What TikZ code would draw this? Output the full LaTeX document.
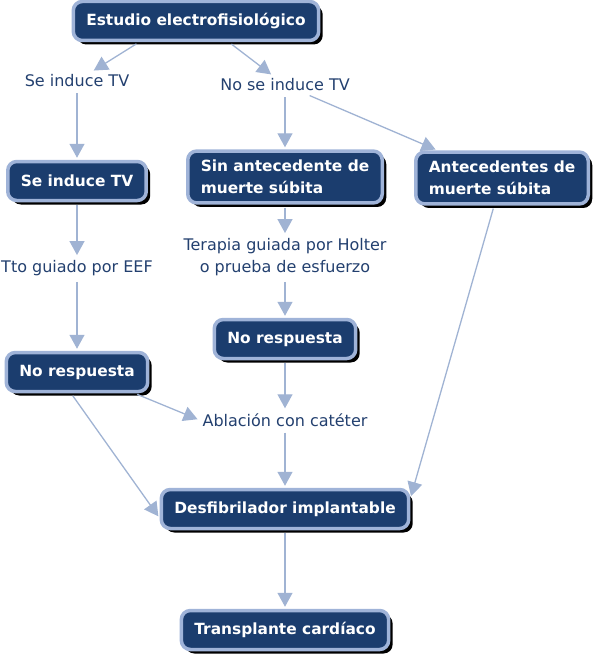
\documentclass[tikz,border=0pt]{standalone}
\usepackage{fontspec}
\setmainfont{DejaVu Sans}
\usetikzlibrary{arrows.meta,shadows}
\definecolor{navy}{HTML}{1B3D6E}
\definecolor{rim}{HTML}{9FB3D8}
\definecolor{wire}{HTML}{A0B3D3}
\definecolor{ink}{HTML}{23406F}
\tikzset{
  concept/.style={
    draw = rim,
    line width = 3.5pt,
    fill = navy,
    rounded corners = 9pt,
    text = white,
    font = \bfseries\fontsize{15.4}{22}\selectfont,
    inner xsep = 13pt,
    inner ysep = 9pt,
    minimum height = 39pt,
    align = left,
    drop shadow = {shadow xshift=4pt, shadow yshift=-4pt, fill=black, opacity=1}
  },
  phrase/.style={
    text = ink,
    font = \fontsize{16}{22}\selectfont,
    align = center,
    inner sep = 3pt
  },
  link/.style={
    draw = wire,
    line width = 1.3pt,
    -{Triangle[width=15pt,length=14pt]},
    shorten > = 2pt,
    shorten < = 3pt
  }
}
\begin{document}
\begin{tikzpicture}[x=1pt,y=-1pt]
    \useasboundingbox (0,0) rectangle (600,658);
    % concepts
    \node[concept] (estudio) at (196,21) {Estudio electrofisiológico};
    \node[concept] (seinduce) at (77,181) {Se induce TV};
    \node[concept] (sinante) at (285,177) {Sin antecedente de\\muerte súbita};
    \node[concept] (ante) at (502,178) {Antecedentes de\\muerte súbita};
    \node[concept] (norespm) at (285,339) {No respuesta};
    \node[concept] (noresp) at (77,372) {No respuesta};
    \node[concept] (desfib) at (285,509) {Desfibrilador implantable};
    \node[concept] (trasplante) at (285,630) {Transplante cardíaco};
    % linking phrases
    \node[phrase] (induce) at (77,81) {Se induce TV};
    \node[phrase] (noinduce) at (285,85) {No se induce TV};
    \node[phrase] (tto) at (77,268) {Tto guiado por EEF};
    \node[phrase] (terapia) at (285,257) {Terapia guiada por Holter\\o prueba de esfuerzo};
    \node[phrase] (ablacion) at (285,420) {Ablación con catéter};
    % links
    \draw[link] ([xshift=-57pt]estudio.south) -- (induce);
    \draw[link] ([xshift=33pt]estudio.south) -- (noinduce);
    \draw[link] (induce) -- (seinduce);
    \draw[link] (noinduce) -- (sinante);
    \draw[link] (noinduce) -- (ante);
    \draw[link] (seinduce) -- (tto);
    \draw[link] (tto) -- (noresp);
    \draw[link] (sinante) -- (terapia);
    \draw[link] (terapia) -- (norespm);
    \draw[link] (norespm) -- (ablacion);
    \draw[link] ([xshift=-15pt]noresp.south east) -- (ablacion.west);
    \draw[link] ([xshift=-6pt]noresp.south) -- ([yshift=-9pt]desfib.west);
    \draw[link] (ablacion) -- (desfib);
    \draw[link] (ante) -- ([yshift=11pt]desfib.east);
    \draw[link] (desfib) -- (trasplante);
\end{tikzpicture}
\end{document}
